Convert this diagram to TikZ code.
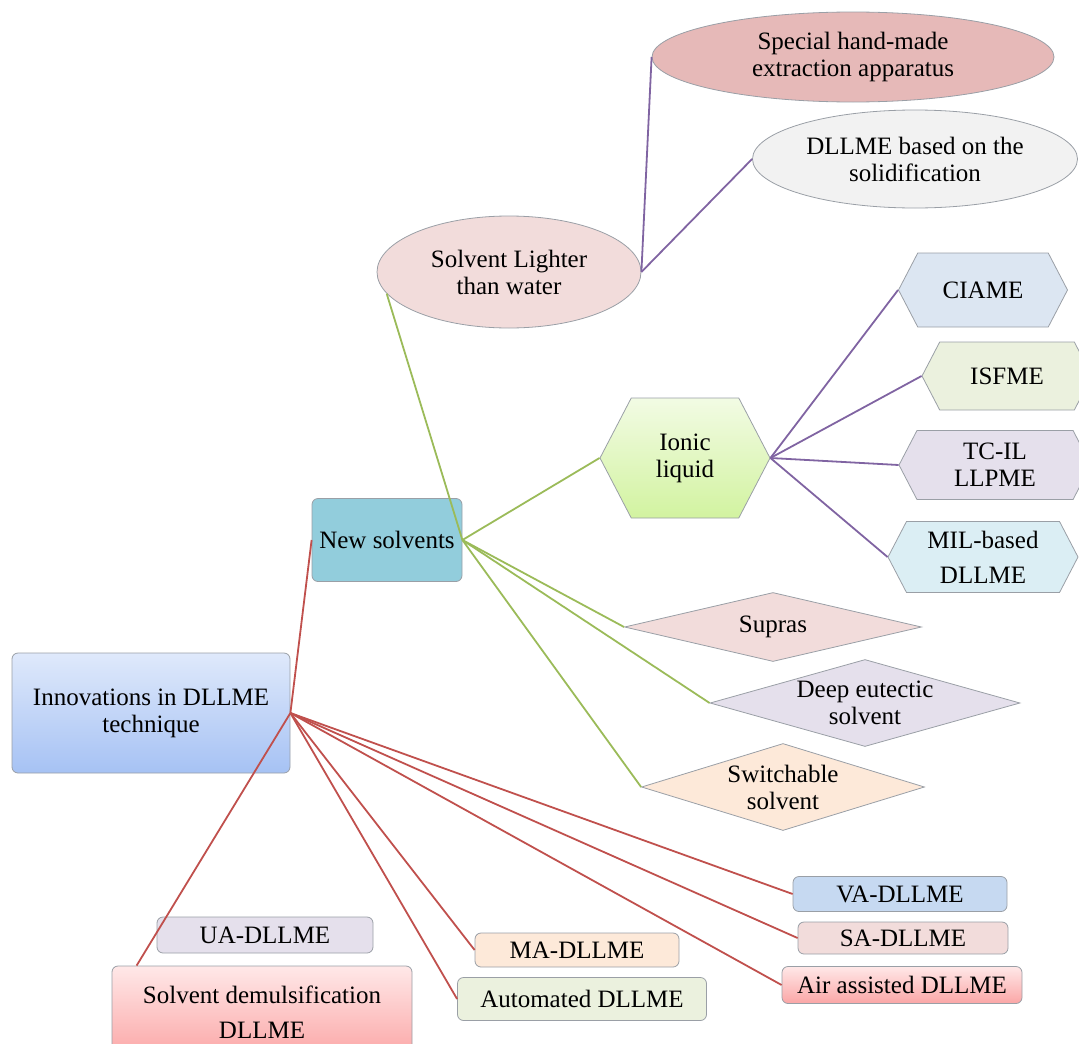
\documentclass[tikz,border=0pt]{standalone}
\usepackage{fontspec}
\setmainfont{Liberation Serif}
\usetikzlibrary{shapes.geometric,shapes.symbols}

\definecolor{linered}{HTML}{C0504D}
\definecolor{linegreen}{HTML}{9BBB59}
\definecolor{linepurple}{HTML}{8064A2}
\definecolor{edgegray}{HTML}{9A9FA6}
\definecolor{fillblue}{HTML}{C6D9F1}
\definecolor{fillteal}{HTML}{92CDDC}
\definecolor{fillpink}{HTML}{F2DCDB}
\definecolor{fillrose}{HTML}{E6B9B8}
\definecolor{fillgray}{HTML}{F2F2F2}
\definecolor{fillsky}{HTML}{DCE6F2}
\definecolor{fillolive}{HTML}{EBF1DE}
\definecolor{filllilac}{HTML}{E5E0EC}
\definecolor{fillaqua}{HTML}{DBEEF4}
\definecolor{fillpeach}{HTML}{FDE9D9}
\definecolor{roottop}{HTML}{DFE9FB}
\definecolor{rootbottom}{HTML}{A6C2F4}
\definecolor{iontop}{HTML}{F2FBE4}
\definecolor{ionbottom}{HTML}{D2F3A0}
\definecolor{redtop}{HTML}{FFE8E8}
\definecolor{redbottom}{HTML}{FBA6A6}

\begin{document}
\begin{tikzpicture}[x=1pt, y=-1pt,
  every node/.style={font=\fontsize{25}{27}\selectfont, text=black, align=center, inner sep=0pt},
  box/.style={rectangle, rounded corners=6pt, draw=edgegray, line width=0.8pt},
  oval/.style={ellipse, draw=edgegray, line width=0.8pt},
  hexa/.style={signal, signal to=west and east, signal pointer angle=125, draw=edgegray, line width=0.8pt},
  rhombus/.style={diamond, draw=edgegray, line width=0.8pt},
  redlink/.style={draw=linered, line width=1.8pt},
  greenlink/.style={draw=linegreen, line width=1.8pt},
  purplelink/.style={draw=linepurple, line width=1.8pt}]
  \useasboundingbox (0,0) rectangle (1079,1044);

  % root and first level
  \node (root) [box, top color=roottop, bottom color=rootbottom, minimum width=278pt, minimum height=120pt] at (151,713) {Innovations in DLLME\\technique};
  \node (solvents) [box, fill=fillteal, minimum width=150pt, minimum height=83pt] at (387,540) {New solvents};

  % solvent lighter than water
  \node (lighter) [oval, fill=fillpink, minimum width=264pt, minimum height=112pt] at (509,272) {Solvent Lighter\\than water};
  \node (handmade) [oval, fill=fillrose, minimum width=402pt, minimum height=90pt] at (853,57) {Special hand-made\\extraction apparatus};
  \node (solidif) [oval, fill=fillgray, minimum width=325pt, minimum height=98pt] at (915,159) {DLLME based on the\\solidification};

  % ionic liquids
  \node (ionic) [hexa, top color=iontop, bottom color=ionbottom, minimum width=170pt, minimum height=120pt] at (685,458) {Ionic\\liquid};
  \node (ciame) [hexa, fill=fillsky, minimum width=169pt, minimum height=74pt] at (983,290) {CIAME};
  \node (isfme) [hexa, fill=fillolive, minimum width=170pt, minimum height=68pt] at (1007,376) {ISFME};
  \node (tcil) [hexa, fill=filllilac, minimum width=192pt, minimum height=69pt] at (995,465) {TC-IL\\LLPME};
  \node (milbased) [hexa, fill=fillaqua, minimum width=190pt, minimum height=71pt] at (983,557) {MIL-based\\[8pt]DLLME};

  % other solvents
  \node (supras) [rhombus, aspect=4.3, fill=fillpink, minimum width=297pt, minimum height=69pt] at (773,627) {Supras};
  \node (eutectic) [rhombus, aspect=3.56, fill=filllilac, minimum width=310pt, minimum height=87pt] at (865,703) {Deep eutectic\\solvent};
  \node (switchable) [rhombus, aspect=3.25, fill=fillpeach, minimum width=283pt, minimum height=87pt] at (783,787) {Switchable\\solvent};

  % assisted DLLME
  \node (uadllme) [box, fill=filllilac, minimum width=216pt, minimum height=36pt] at (265,935) {UA-DLLME};
  \node (demuls) [box, top color=redtop, bottom color=redbottom, minimum width=300pt, minimum height=92pt] at (262,1012) {Solvent demulsification\\[8pt]DLLME};
  \node (madllme) [box, fill=fillpeach, minimum width=204pt, minimum height=34pt] at (577,950) {MA-DLLME};
  \node (automated) [box, fill=fillolive, minimum width=249pt, minimum height=43pt] at (582,999) {Automated DLLME};
  \node (vadllme) [box, fill=fillblue, minimum width=214pt, minimum height=35pt] at (900,894) {VA-DLLME};
  \node (sadllme) [box, fill=fillpink, minimum width=210pt, minimum height=32pt] at (903,938) {SA-DLLME};
  \node (airdllme) [box, top color=redtop, bottom color=redbottom, minimum width=240pt, minimum height=37pt] at (902,985) {Air assisted DLLME};

  % connectors
  \draw[redlink] (root.east) -- (solvents.west);
  \draw[redlink] (root.east) -- ([xshift=25pt]demuls.north west);
  \draw[redlink] (root.east) -- (automated.west);
  \draw[redlink] (root.east) -- (madllme.west);
  \draw[redlink] (root.east) -- (airdllme.west);
  \draw[redlink] (root.east) -- (sadllme.west);
  \draw[redlink] (root.east) -- (vadllme.west);

  \draw[greenlink] (solvents.east) -- (lighter.190);
  \draw[greenlink] (solvents.east) -- (ionic.west);
  \draw[greenlink] (solvents.east) -- (supras.west);
  \draw[greenlink] (solvents.east) -- (eutectic.west);
  \draw[greenlink] (solvents.east) -- (switchable.west);

  \draw[purplelink] (lighter.east) -- (handmade.west);
  \draw[purplelink] (lighter.east) -- (solidif.west);
  \draw[purplelink] (ionic.east) -- (ciame.west);
  \draw[purplelink] (ionic.east) -- (isfme.west);
  \draw[purplelink] (ionic.east) -- (tcil.west);
  \draw[purplelink] (ionic.east) -- (milbased.west);
\end{tikzpicture}
\end{document}
